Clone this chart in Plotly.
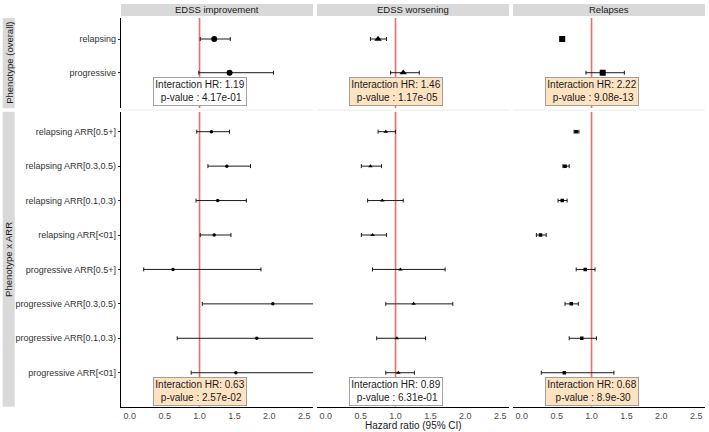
import plotly.graph_objects as go

W, H = 709, 432

# ---------------- data ----------------
outcomes = ["EDSS improvement", "EDSS worsening", "Relapses"]
row_titles = ["Phenotype (overall)", "Phenotype x ARR"]

overall_labels = ["relapsing", "progressive"]
arr_labels = ["relapsing ARR[0.5+]", "relapsing ARR[0.3,0.5)", "relapsing ARR[0.1,0.3)",
              "relapsing ARR[<01]", "progressive ARR[0.5+]", "progressive ARR[0.3,0.5)",
              "progressive ARR[0.1,0.3)", "progressive ARR[<01]"]

# overall phenotype: hazard ratio, lower CI, upper CI
impr_overall_hr = [1.21, 1.43]
impr_overall_lo = [1.01, 0.99]
impr_overall_hi = [1.44, 2.06]

wors_overall_hr = [0.75, 1.11]
wors_overall_lo = [0.64, 0.93]
wors_overall_hi = [0.87, 1.34]

rel_overall_hr = [0.58, 1.16]
rel_overall_lo = [0.55, 0.92]
rel_overall_hi = [0.61, 1.47]

# phenotype x ARR
impr_arr_hr = [1.17, 1.39, 1.26, 1.21, 0.62, 2.05, 1.82, 1.52]
impr_arr_lo = [0.96, 1.12, 0.95, 1.01, 0.20, 1.04, 0.68, 0.88]
impr_arr_hi = [1.43, 1.73, 1.67, 1.45, 1.88, 3.10, 3.20, 2.90]

wors_arr_hr = [0.86, 0.64, 0.81, 0.67, 1.07, 1.26, 1.02, 1.04]
wors_arr_lo = [0.75, 0.51, 0.60, 0.51, 0.67, 0.86, 0.73, 0.86]
wors_arr_hi = [1.00, 0.80, 1.11, 0.87, 1.71, 1.82, 1.43, 1.27]

rel_arr_hr = [0.78, 0.62, 0.58, 0.27, 0.91, 0.71, 0.86, 0.61]
rel_arr_lo = [0.75, 0.59, 0.52, 0.21, 0.78, 0.62, 0.68, 0.28]
rel_arr_hi = [0.82, 0.68, 0.65, 0.35, 1.05, 0.81, 1.07, 1.32]

interaction_hr_overall = [1.19, 1.46, 2.22]
interaction_p_overall = ["4.17e-01", "1.17e-05", "9.08e-13"]
interaction_hr_arr = [0.63, 0.89, 0.68]
interaction_p_arr = ["2.57e-02", "6.31e-01", "8.9e-30"]

x_ticks = [0.0, 0.5, 1.0, 1.5, 2.0, 2.5]

# ---------------- layout geometry ----------------
col_px = [(121, 313), (317, 509), (513, 705)]
row_px = [(18, 108.3), (111.7, 406.7)]
row_yrange = [[-1.056, 1.623], [-0.987, 7.581]]
x_range = [-0.125, 2.625]

symbols = ["circle", "triangle-up", "square"]
top_sizes = [6, 6.5, 6]
bot_sizes = [3.5, 4, 3.5]

FONT = "Liberation Sans, Arial, sans-serif"
RED = "rgba(240,60,60,0.75)"

def px_x(p):
    return p / W

def px_y(p):
    return 1 - p / H

fig = go.Figure()
layout = dict(width=W, height=H, margin=dict(l=0, r=0, t=0, b=0, pad=0), autosize=False,
              paper_bgcolor="white", plot_bgcolor="rgba(0,0,0,0)", showlegend=False,
              font=dict(family=FONT, color="#333333"))
shapes, annotations = [], []

overall_data = [(impr_overall_hr, impr_overall_lo, impr_overall_hi),
                (wors_overall_hr, wors_overall_lo, wors_overall_hi),
                (rel_overall_hr, rel_overall_lo, rel_overall_hi)]
arr_data = [(impr_arr_hr, impr_arr_lo, impr_arr_hi),
            (wors_arr_hr, wors_arr_lo, wors_arr_hi),
            (rel_arr_hr, rel_arr_lo, rel_arr_hi)]

for r in range(2):
    labels = overall_labels if r == 0 else arr_labels
    n = len(labels)
    ypos = [n - 1 - i for i in range(n)]
    ihr = interaction_hr_overall if r == 0 else interaction_hr_arr
    ip = interaction_p_overall if r == 0 else interaction_p_arr
    for c in range(3):
        idx = r * 3 + c + 1
        sfx = "" if idx == 1 else str(idx)
        x0, x1 = col_px[c]
        y0, y1 = row_px[r]
        # reference line at HR = 1 (drawn as a trace so it sits under the points)
        fig.add_trace(go.Scatter(
            x=[1, 1], y=row_yrange[r], mode="lines",
            xaxis="x" + sfx, yaxis="y" + sfx,
            line=dict(color=RED, width=1.6), hoverinfo="skip"))
        hr, lo, hi = (overall_data if r == 0 else arr_data)[c]
        fig.add_trace(go.Scatter(
            x=hr, y=ypos, mode="markers",
            xaxis="x" + sfx, yaxis="y" + sfx,
            marker=dict(symbol=symbols[c], color="black",
                        size=(top_sizes if r == 0 else bot_sizes)[c]),
            error_x=dict(type="data", symmetric=False,
                         array=[h - v for h, v in zip(hi, hr)],
                         arrayminus=[v - l for v, l in zip(hr, lo)],
                         color="#1a1a1a", thickness=1, width=2),
            cliponaxis=True, hoverinfo="skip"))
        bottom = (r == 1)
        layout["xaxis" + sfx] = dict(
            domain=[px_x(x0), px_x(x1)], range=x_range, anchor="y" + sfx,
            showgrid=False, zeroline=False,
            showline=bottom, linecolor="black", linewidth=1.2,
            ticks="",
            tickvals=x_ticks, ticktext=[f"{t:.1f}" for t in x_ticks],
            showticklabels=bottom, tickfont=dict(size=9, color="#4d4d4d"))
        left = (c == 0)
        layout["yaxis" + sfx] = dict(
            domain=[px_y(y1), px_y(y0)], range=row_yrange[r], anchor="x" + sfx,
            showgrid=False, zeroline=False,
            showline=left, linecolor="black", linewidth=1.2,
            ticks="outside" if left else "", ticklen=2, tickcolor="#333333",
            tickvals=ypos, ticktext=labels, showticklabels=left,
            tickfont=dict(size=9, color="#333333"))
        # interaction annotation
        sig = float(ip[c]) < 0.05
        annotations.append(dict(
            xref="x" + sfx, yref="y" + sfx, x=1, y=-0.555,
            xanchor="center", yanchor="middle",
            text=f"Interaction HR: {ihr[c]:.2f}<br>\u00a0p-value : {ip[c]}",
            showarrow=False, align="center",
            font=dict(size=10, color="#1a1a1a", family=FONT),
            bgcolor="#FDE3C2" if sig else "white",
            bordercolor="#8c8c8c", borderwidth=0.8, borderpad=1.5))

# column strips
for c, name in enumerate(outcomes):
    x0, x1 = col_px[c]
    shapes.append(dict(type="rect", xref="paper", yref="paper",
                       x0=px_x(x0), x1=px_x(x1), y0=px_y(16), y1=px_y(4),
                       fillcolor="#D9D9D9", line=dict(width=0), layer="below"))
    annotations.append(dict(xref="paper", yref="paper", x=px_x((x0 + x1) / 2), y=px_y(10),
                            xanchor="center", yanchor="middle",
                            text=name, showarrow=False,
                            font=dict(size=9.5, color="#1a1a1a", family=FONT)))
    # faint separator between the two rows of panels
    shapes.append(dict(type="line", xref="paper", yref="paper",
                       x0=px_x(x0), x1=px_x(x1), y0=px_y(110), y1=px_y(110),
                       line=dict(color="#EBEBEB", width=1), layer="below"))

# row strips
for r, name in enumerate(row_titles):
    y0, y1 = row_px[r]
    shapes.append(dict(type="rect", xref="paper", yref="paper",
                       x0=px_x(2.7), x1=px_x(14.7), y0=px_y(y1), y1=px_y(y0),
                       fillcolor="#D9D9D9", line=dict(width=0), layer="below"))
    annotations.append(dict(xref="paper", yref="paper", x=px_x(8.7), y=px_y((y0 + y1) / 2),
                            xanchor="center", yanchor="middle",
                            text=name, showarrow=False, textangle=-90,
                            font=dict(size=9.5, color="#1a1a1a", family=FONT)))

annotations.append(dict(xref="paper", yref="paper", x=px_x(413), y=px_y(425),
                        xanchor="center", yanchor="middle",
                        text="Hazard ratio (95% CI)", showarrow=False,
                        font=dict(size=10, color="#1a1a1a", family=FONT)))

layout["shapes"] = shapes
layout["annotations"] = annotations
fig.update_layout(**layout)
fig.write_html("out.html", config={"displayModeBar": False, "staticPlot": True},
               post_script="document.body.style.margin='0';document.body.style.overflow='hidden';")
